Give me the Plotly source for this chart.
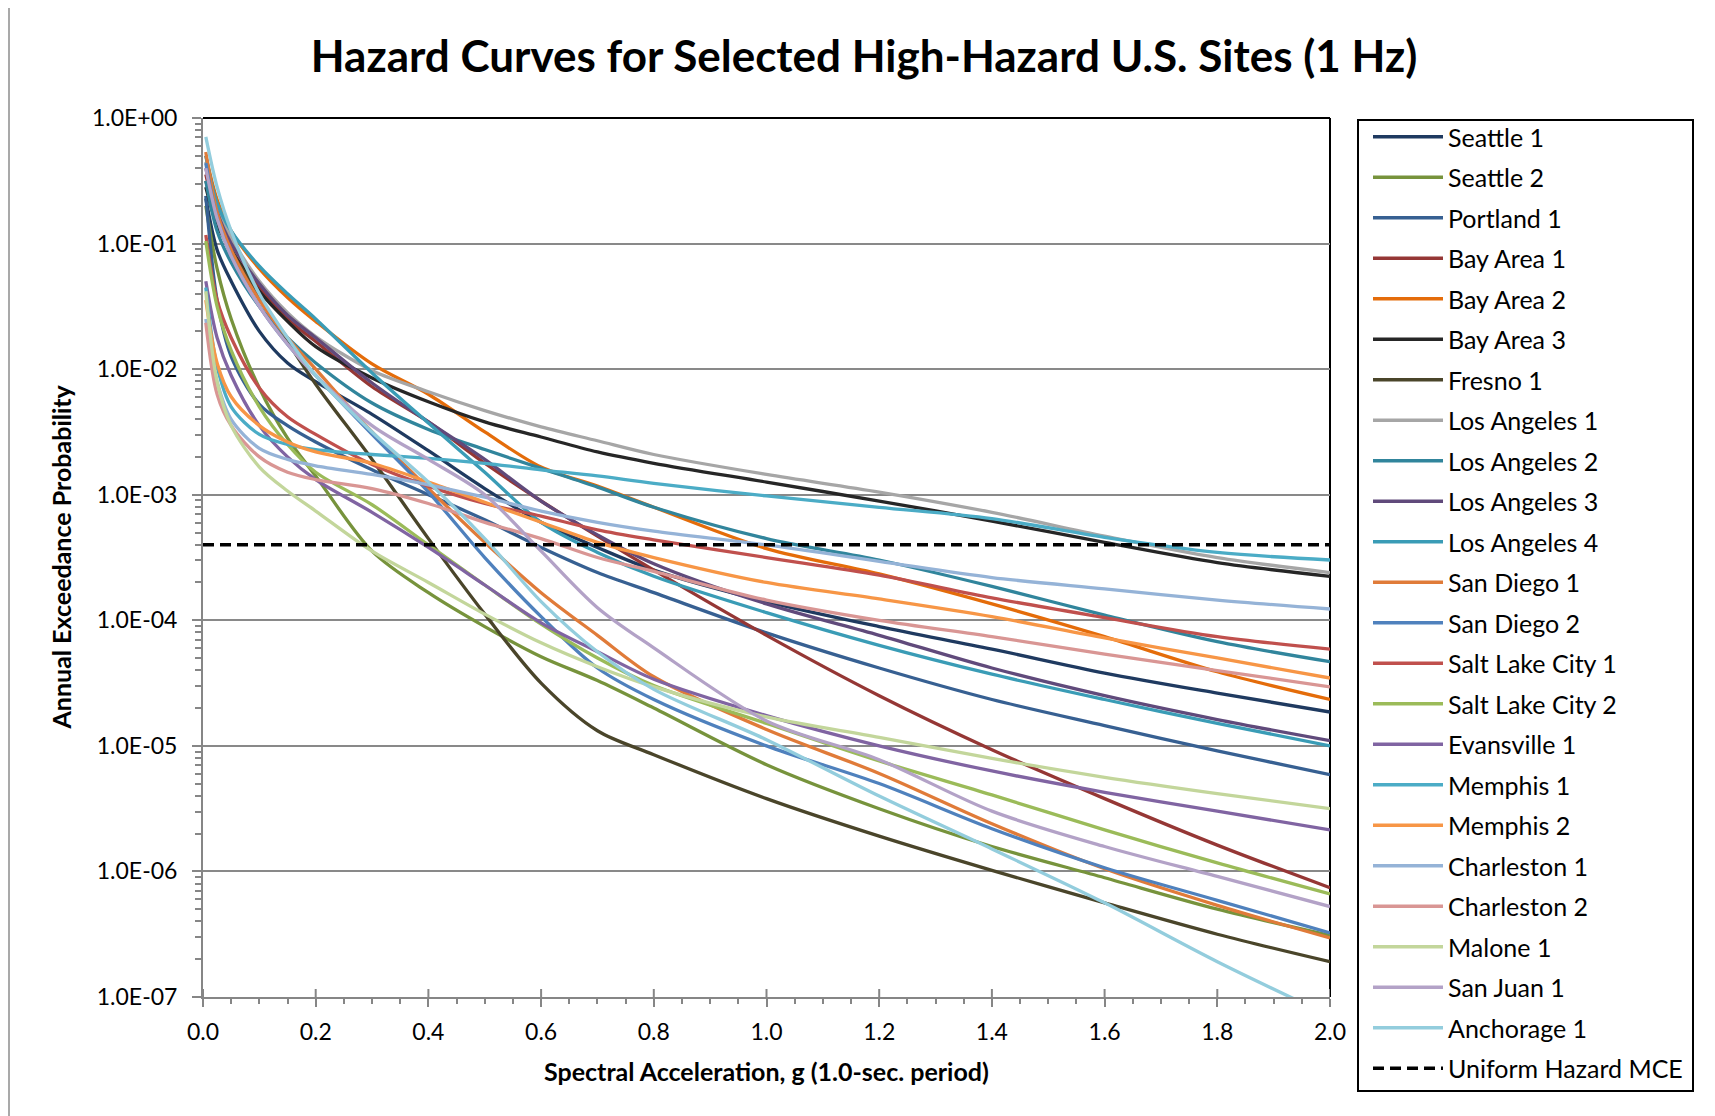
import plotly.graph_objects as go

# ---------------- data ----------------
sa = [0.005, 0.025, 0.05, 0.1, 0.15, 0.2, 0.3, 0.4, 0.5, 0.6, 0.7, 0.8, 1.0, 1.2, 1.4, 1.6, 1.8, 2.0]

seattle_1 = [2.29e-1, 8.91e-2, 5.01e-2, 2.00e-2, 1.12e-2, 7.94e-3, 4.37e-3, 2.24e-3, 1.12e-3, 6.03e-4, 3.80e-4, 2.51e-4, 1.41e-4, 8.91e-5, 5.89e-5, 3.80e-5, 2.63e-5, 1.86e-5]
seattle_2 = [2.00e-1, 6.31e-2, 2.51e-2, 7.08e-3, 2.82e-3, 1.41e-3, 3.55e-4, 1.66e-4, 8.91e-5, 5.13e-5, 3.31e-5, 2.00e-5, 7.08e-6, 3.16e-6, 1.58e-6, 8.91e-7, 5.01e-7, 3.09e-7]
portland_1 = [2.40e-1, 3.55e-2, 1.26e-2, 5.25e-3, 3.55e-3, 2.63e-3, 1.58e-3, 1.00e-3, 6.31e-4, 3.80e-4, 2.40e-4, 1.66e-4, 7.94e-5, 4.17e-5, 2.34e-5, 1.45e-5, 9.12e-6, 5.89e-6]
bay_area_1 = [3.55e-1, 1.58e-1, 8.91e-2, 4.47e-2, 2.51e-2, 1.66e-2, 7.24e-3, 3.80e-3, 1.78e-3, 8.91e-4, 4.68e-4, 2.51e-4, 7.59e-5, 2.51e-5, 9.33e-6, 3.80e-6, 1.62e-6, 7.41e-7]
bay_area_2 = [5.01e-1, 2.24e-1, 1.26e-1, 6.31e-2, 3.72e-2, 2.40e-2, 1.10e-2, 6.31e-3, 3.16e-3, 1.66e-3, 1.17e-3, 7.94e-4, 3.72e-4, 2.34e-4, 1.35e-4, 7.41e-5, 3.89e-5, 2.34e-5]
bay_area_3 = [2.82e-1, 1.41e-1, 8.91e-2, 4.17e-2, 2.40e-2, 1.51e-2, 8.51e-3, 5.50e-3, 3.80e-3, 2.88e-3, 2.19e-3, 1.78e-3, 1.26e-3, 8.91e-4, 6.17e-4, 4.17e-4, 2.88e-4, 2.24e-4]
fresno_1 = [3.16e-1, 1.58e-1, 8.91e-2, 3.80e-2, 1.66e-2, 7.59e-3, 1.91e-3, 4.47e-4, 1.12e-4, 3.16e-5, 1.32e-5, 8.51e-6, 3.80e-6, 1.91e-6, 1.02e-6, 5.62e-7, 3.16e-7, 1.91e-7]
los_angeles_1 = [4.47e-1, 2.00e-1, 1.12e-1, 5.01e-2, 2.82e-2, 1.82e-2, 9.77e-3, 6.61e-3, 4.68e-3, 3.47e-3, 2.69e-3, 2.09e-3, 1.45e-3, 1.05e-3, 7.24e-4, 4.68e-4, 3.16e-4, 2.40e-4]
los_angeles_2 = [3.16e-1, 1.26e-1, 7.08e-2, 3.16e-2, 1.78e-2, 1.12e-2, 5.37e-3, 3.31e-3, 2.29e-3, 1.62e-3, 1.15e-3, 7.94e-4, 4.47e-4, 3.02e-4, 1.86e-4, 1.10e-4, 6.76e-5, 4.68e-5]
los_angeles_3 = [3.98e-1, 1.78e-1, 1.00e-1, 4.79e-2, 2.69e-2, 1.78e-2, 7.76e-3, 3.80e-3, 1.91e-3, 8.91e-4, 4.79e-4, 2.82e-4, 1.35e-4, 7.59e-5, 4.17e-5, 2.51e-5, 1.62e-5, 1.10e-5]
los_angeles_4 = [5.01e-1, 2.09e-1, 1.26e-1, 6.61e-2, 3.98e-2, 2.51e-2, 9.33e-3, 3.72e-3, 1.51e-3, 6.03e-4, 3.47e-4, 2.24e-4, 1.15e-4, 6.31e-5, 3.72e-5, 2.34e-5, 1.51e-5, 1.00e-5]
san_diego_1 = [5.37e-1, 1.78e-1, 8.91e-2, 3.55e-2, 1.78e-2, 1.00e-2, 3.16e-3, 1.12e-3, 4.17e-4, 1.66e-4, 7.59e-5, 3.55e-5, 1.35e-5, 6.03e-6, 2.40e-6, 1.05e-6, 5.37e-7, 2.95e-7]
san_diego_2 = [4.37e-1, 1.58e-1, 7.94e-2, 3.16e-2, 1.58e-2, 8.91e-3, 3.02e-3, 1.05e-3, 3.16e-4, 1.07e-4, 4.17e-5, 2.34e-5, 1.00e-5, 5.01e-6, 2.19e-6, 1.07e-6, 5.89e-7, 3.24e-7]
salt_lake_city_1 = [1.17e-1, 3.55e-2, 1.78e-2, 7.08e-3, 4.17e-3, 3.02e-3, 1.74e-3, 1.17e-3, 8.51e-4, 6.76e-4, 5.25e-4, 4.37e-4, 3.16e-4, 2.29e-4, 1.51e-4, 1.05e-4, 7.41e-5, 5.89e-5]
salt_lake_city_2 = [1.05e-1, 3.16e-2, 1.41e-2, 5.01e-3, 2.51e-3, 1.51e-3, 8.32e-4, 3.98e-4, 1.91e-4, 9.33e-5, 5.01e-5, 3.02e-5, 1.51e-5, 7.59e-6, 4.07e-6, 2.14e-6, 1.17e-6, 6.61e-7]
evansville_1 = [5.01e-2, 1.78e-2, 8.91e-3, 3.55e-3, 2.00e-3, 1.32e-3, 7.24e-4, 3.80e-4, 1.91e-4, 9.55e-5, 5.62e-5, 3.39e-5, 1.74e-5, 1.00e-5, 6.31e-6, 4.27e-6, 3.02e-6, 2.14e-6]
memphis_1 = [4.47e-2, 1.05e-2, 5.01e-3, 3.02e-3, 2.51e-3, 2.29e-3, 2.09e-3, 1.95e-3, 1.78e-3, 1.58e-3, 1.41e-3, 1.23e-3, 9.77e-4, 7.94e-4, 6.46e-4, 4.57e-4, 3.47e-4, 3.02e-4]
memphis_2 = [3.55e-2, 1.12e-2, 6.03e-3, 3.55e-3, 2.63e-3, 2.19e-3, 1.78e-3, 1.26e-3, 8.71e-4, 6.03e-4, 4.17e-4, 3.16e-4, 2.00e-4, 1.48e-4, 1.07e-4, 7.24e-5, 5.01e-5, 3.47e-5]
charleston_1 = [2.51e-2, 7.94e-3, 3.98e-3, 2.34e-3, 1.91e-3, 1.70e-3, 1.45e-3, 1.20e-3, 9.55e-4, 7.41e-4, 6.03e-4, 5.13e-4, 3.98e-4, 2.95e-4, 2.19e-4, 1.78e-4, 1.45e-4, 1.23e-4]
charleston_2 = [2.34e-2, 6.31e-3, 3.55e-3, 2.00e-3, 1.51e-3, 1.32e-3, 1.12e-3, 8.51e-4, 6.03e-4, 4.47e-4, 3.16e-4, 2.45e-4, 1.45e-4, 1.00e-4, 7.41e-5, 5.37e-5, 3.98e-5, 2.95e-5]
malone_1 = [4.17e-2, 7.94e-3, 3.55e-3, 1.66e-3, 1.07e-3, 7.41e-4, 3.55e-4, 2.00e-4, 1.12e-4, 6.61e-5, 4.27e-5, 2.95e-5, 1.70e-5, 1.17e-5, 7.94e-6, 5.62e-6, 4.17e-6, 3.16e-6]
san_juan_1 = [3.98e-1, 1.58e-1, 7.94e-2, 3.16e-2, 1.58e-2, 8.91e-3, 3.55e-3, 1.91e-3, 1.00e-3, 3.55e-4, 1.26e-4, 6.03e-5, 1.58e-5, 7.76e-6, 3.02e-6, 1.58e-6, 9.12e-7, 5.25e-7]
anchorage_1 = [7.08e-1, 2.82e-1, 1.26e-1, 3.98e-2, 1.78e-2, 8.91e-3, 3.16e-3, 1.26e-3, 4.47e-4, 1.41e-4, 5.62e-5, 2.82e-5, 1.12e-5, 3.98e-6, 1.51e-6, 5.62e-7, 1.91e-7, 7.08e-8]

mce_sa = [0.0, 2.0]
mce_prob = [4.0e-4, 4.0e-4]

site_names = ["Seattle 1", "Seattle 2", "Portland 1", "Bay Area 1", "Bay Area 2", "Bay Area 3",
              "Fresno 1", "Los Angeles 1", "Los Angeles 2", "Los Angeles 3", "Los Angeles 4",
              "San Diego 1", "San Diego 2", "Salt Lake City 1", "Salt Lake City 2", "Evansville 1",
              "Memphis 1", "Memphis 2", "Charleston 1", "Charleston 2", "Malone 1", "San Juan 1",
              "Anchorage 1"]
site_values = [seattle_1, seattle_2, portland_1, bay_area_1, bay_area_2, bay_area_3, fresno_1,
               los_angeles_1, los_angeles_2, los_angeles_3, los_angeles_4, san_diego_1, san_diego_2,
               salt_lake_city_1, salt_lake_city_2, evansville_1, memphis_1, memphis_2,
               charleston_1, charleston_2, malone_1, san_juan_1, anchorage_1]
site_colors = ["#1F3A60", "#77933C", "#376092", "#953735", "#E46C0A", "#262626", "#4A452A",
               "#A6A6A6", "#31859C", "#604A7B", "#3A9CB6", "#E07B39", "#4F81BD", "#C0504D",
               "#9BBB59", "#8064A2", "#4BACC6", "#F79646", "#95B3D7", "#D99694", "#C3D69B",
               "#B3A2C7", "#93CDDD"]

x_ticks = [0.0, 0.2, 0.4, 0.6, 0.8, 1.0, 1.2, 1.4, 1.6, 1.8, 2.0]
x_tick_labels = ["0.0", "0.2", "0.4", "0.6", "0.8", "1.0", "1.2", "1.4", "1.6", "1.8", "2.0"]
y_ticks = [1e0, 1e-1, 1e-2, 1e-3, 1e-4, 1e-5, 1e-6, 1e-7]
y_tick_labels = ["1.0E+00", "1.0E-01", "1.0E-02", "1.0E-03", "1.0E-04", "1.0E-05", "1.0E-06", "1.0E-07"]

# ---------------- figure ----------------
# the page body adds an 8 px offset, so the figure is laid out 8 px smaller
OFF = 8
W, H = 1715 - OFF, 1116 - OFF
L_M, T_M = 203 - OFF, 118 - OFF
PW, PH = 1127, 879
R_M, B_M = W - L_M - PW, H - T_M - PH
FONT = "Lato"
AXIS_GRAY = "#868686"


def px_x(page_x):
    return (page_x - OFF - L_M) / PW


def px_y(page_y):
    return (H - B_M - (page_y - OFF)) / PH


fig = go.Figure()
for i, (name, vals, col) in enumerate(zip(site_names, site_values, site_colors)):
    fig.add_trace(go.Scatter(
        x=sa, y=vals, name=name, mode="lines", legendgroup=f"g{i}",
        line=dict(color=col, width=3.3, shape="spline", smoothing=0.9),
    ))
fig.add_trace(go.Scatter(
    x=mce_sa, y=mce_prob, name="Uniform Hazard MCE", mode="lines", legendgroup="mce",
    line=dict(color="#000000", width=3.5, dash="11px,6px"),
))

minor_y = [k * 10.0 ** e for e in range(-7, 0) for k in range(2, 10)]

fig.update_layout(
    width=W, height=H,
    margin=dict(l=L_M, r=R_M, t=T_M, b=B_M),
    paper_bgcolor="white", plot_bgcolor="white",
    font=dict(family=FONT, color="#000000"),
    title=dict(text="<b>Hazard Curves for Selected High-Hazard U.S. Sites (1 Hz)</b>",
               font=dict(family=FONT, size=44, color="#000000"),
               x=px_x(864), xref="paper", xanchor="center",
               y=1 - (57 - OFF) / H, yref="container", yanchor="middle"),
    xaxis=dict(range=[0, 2], tickmode="array", tickvals=x_ticks, ticktext=x_tick_labels,
               automargin=False,
               ticks="outside", ticklen=8, tickwidth=2, tickcolor=AXIS_GRAY,
               showline=True, linecolor=AXIS_GRAY, linewidth=2,
               showgrid=False, zeroline=False,
               tickfont=dict(family=FONT, size=23, color="#000000"), ticklabelstandoff=5,
               minor=dict(dtick=0.05, ticks="outside", ticklen=5, tickwidth=2, tickcolor=AXIS_GRAY,
                          showgrid=False)),
    yaxis=dict(type="log", range=[-7, 0], tickmode="array", tickvals=y_ticks, ticktext=y_tick_labels,
               automargin=False,
               ticks="outside", ticklen=9, tickwidth=2, tickcolor=AXIS_GRAY,
               showline=True, linecolor=AXIS_GRAY, linewidth=2,
               showgrid=True, gridcolor="#898989", gridwidth=1.8, zeroline=False,
               tickfont=dict(family=FONT, size=23, color="#000000"), ticklabelstandoff=10,
               minor=dict(tickmode="array", tickvals=minor_y, ticks="outside", ticklen=6, tickwidth=2,
                          tickcolor=AXIS_GRAY, showgrid=False)),
    legend=dict(x=px_x(1368), y=px_y(114), xanchor="left", yanchor="top", maxheight=1000,
                borderwidth=0, bgcolor="rgba(0,0,0,0)",
                font=dict(family=FONT, size=25, color="#000000"),
                traceorder="grouped", tracegroupgap=5, itemwidth=70),
    showlegend=True,
)

# legend frame
fig.add_shape(type="rect", xref="paper", yref="paper",
              x0=px_x(1358), x1=px_x(1693), y0=px_y(1091), y1=px_y(120),
              line=dict(color="#000000", width=2), fillcolor="rgba(0,0,0,0)")

# axis titles
fig.add_annotation(text="<b>Annual Exceedance Probability</b>", textangle=-90,
                   x=px_x(60), y=0.5, xref="paper", yref="paper",
                   xanchor="center", yanchor="middle", showarrow=False,
                   font=dict(family=FONT, size=25, color="#000000"))
fig.add_annotation(text="<b>Spectral Acceleration, g (1.0-sec. period)</b>",
                   x=0.5, y=px_y(1071), xref="paper", yref="paper",
                   xanchor="center", yanchor="middle", showarrow=False,
                   font=dict(family=FONT, size=25, color="#000000"))

# plot-area frame (top and right) in black
fig.add_shape(type="line", xref="paper", yref="paper", x0=0, x1=1, y0=1, y1=1,
              line=dict(color="#000000", width=2), layer="between")
fig.add_shape(type="line", xref="paper", yref="paper", x0=1, x1=1, y0=0, y1=1,
              line=dict(color="#000000", width=2), layer="between")
# inner half of the crossing major x ticks
for xv in x_ticks:
    fig.add_shape(type="line", xref="x", yref="paper", ysizemode="pixel", yanchor=0,
                  x0=xv, x1=xv, y0=0, y1=8, line=dict(color=AXIS_GRAY, width=2), layer="above")
# chart-area border at the far left
fig.add_shape(type="line", xref="paper", yref="paper",
              x0=px_x(9), x1=px_x(9), y0=px_y(1116), y1=px_y(0),
              line=dict(color="#8C8C8C", width=1.5))

fig.write_html("out.html")
